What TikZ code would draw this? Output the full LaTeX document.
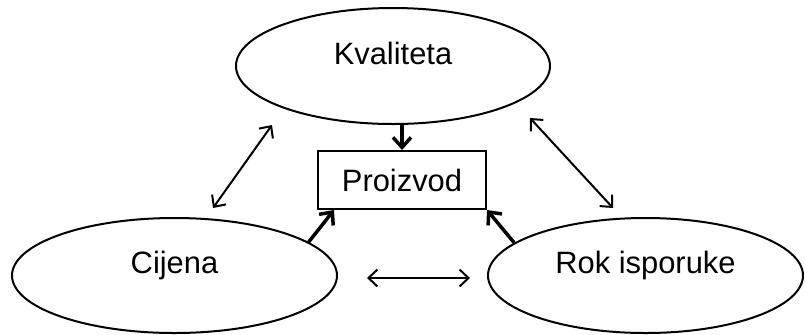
\documentclass[tikz,border=0pt]{standalone}
\usepackage{fontspec}
\setmainfont{Liberation Sans}
\usetikzlibrary{shapes.geometric,arrows.meta,calc}
\begin{document}
\begin{tikzpicture}[x=1bp,y=-1bp,
  every node/.style={font=\fontsize{31}{36}\selectfont},
  oval/.style={ellipse,draw,line width=2bp,inner sep=0pt,text height=20bp,text depth=24bp},
  boxnode/.style={rectangle,draw,line width=2bp,inner sep=0pt,minimum width=168bp,minimum height=58bp},
  thinarr/.style={line width=2bp,{Straight Barb[length=9bp,width=17bp]}-{Straight Barb[length=9bp,width=17bp]}},
  thickarr/.style={line width=3.5bp,-{Straight Barb[length=10bp,width=18bp]}}]
\useasboundingbox (0,0) rectangle (805,334);
\node[oval,minimum width=314bp,minimum height=116bp] (K) at (393,66) {Kvaliteta};
\node[boxnode] (P) at (402,180) {Proizvod};
\node[oval,minimum width=325bp,minimum height=115bp] (C) at (174.5,275.5) {Cijena};
\node[oval,minimum width=315bp,minimum height=115bp] (R) at (645.5,275.5) {Rok isporuke};
\coordinate (l1) at (272,125);
\coordinate (l2) at (213,208);
\coordinate (r1) at (530,118);
\coordinate (r2) at (613,208);
\coordinate (b1) at (367,278);
\coordinate (b2) at (470,278);
\draw[thickarr] (P.north |- K.south) -- (P.north);
\draw[thickarr] (C.14) -- ($(P.south west)+(17,0)$);
\draw[thickarr] (R.166) -- (P.south east);
\draw[thinarr] (l1) -- (l2);
\draw[thinarr] (r1) -- (r2);
\draw[thinarr] (b1) -- (b2);
\end{tikzpicture}
\end{document}
